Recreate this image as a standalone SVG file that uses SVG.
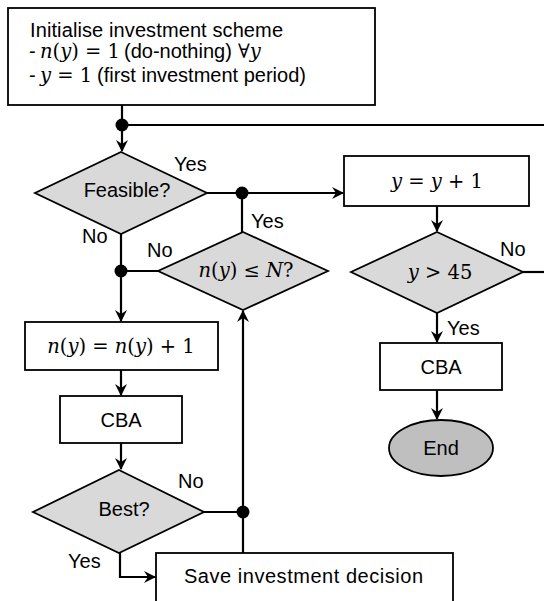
<svg xmlns="http://www.w3.org/2000/svg" width="544" height="601" viewBox="0 0 544 601">
<style>
.box{fill:#fff;stroke:#000;stroke-width:1.8}
.dia{fill:#d9d9d9;stroke:#000;stroke-width:1.8}
.end{fill:#bfbfbf;stroke:#000;stroke-width:1.8}
.t{font-family:"Liberation Sans",Arial,sans-serif;font-size:20px;fill:#000}
.c{text-anchor:middle}
.m{font-family:"DejaVu Serif","Liberation Serif",serif;font-size:19.5px;fill:#000}
.i{font-style:italic}
.ln{fill:none;stroke:#000;stroke-width:2.2}
.dot{fill:#000}
</style>
<defs>
<marker id="ah" viewBox="0 0 12 12" refX="11" refY="6" markerWidth="12" markerHeight="12" markerUnits="userSpaceOnUse" orient="auto">
<path d="M0,0 L12,6 L0,12 L4,6 z" fill="#000"/>
</marker>
</defs>
<g id="connectors">
<path class="ln" d="M122,105 V151" marker-end="url(#ah)"/>
<path class="ln" d="M122,125 H544"/>
<path class="ln" d="M207,193 H343" marker-end="url(#ah)"/>
<path class="ln" d="M242,193 V232"/>
<path class="ln" d="M437,206 V231" marker-end="url(#ah)"/>
<path class="ln" d="M523,272 H544"/>
<path class="ln" d="M437,313 V342" marker-end="url(#ah)"/>
<path class="ln" d="M437,390 V419" marker-end="url(#ah)"/>
<path class="ln" d="M121,234 V321" marker-end="url(#ah)"/>
<path class="ln" d="M158,271 H121"/>
<path class="ln" d="M121,370 V395" marker-end="url(#ah)"/>
<path class="ln" d="M121,443 V469" marker-end="url(#ah)"/>
<path class="ln" d="M204,512 H243"/>
<path class="ln" d="M243,553 V311" marker-end="url(#ah)"/>
<path class="ln" d="M120,553 V577 H155" marker-end="url(#ah)"/>
<circle class="dot" cx="122" cy="125" r="6.5"/>
<circle class="dot" cx="242" cy="193" r="6.5"/>
<circle class="dot" cx="121" cy="271" r="6.5"/>
<circle class="dot" cx="243" cy="512" r="6.5"/>
<text class="t" x="174" y="171">Yes</text>
<text class="t" x="82" y="243">No</text>
<text class="t" x="251" y="228">Yes</text>
<text class="t" x="147" y="257">No</text>
<text class="t" x="500" y="256">No</text>
<text class="t" x="447" y="335">Yes</text>
<text class="t" x="178" y="488">No</text>
<text class="t" x="68" y="568">Yes</text>
</g>
<g id="init">
<rect class="box" x="8" y="8" width="367" height="97"/>
<text class="t" x="30" y="37" textLength="253">Initialise investment scheme</text>
<text class="t" x="29" y="58">-</text>
<text class="m" x="40" y="58"><tspan class="i">n</tspan>(<tspan class="i">y</tspan>) = 1</text>
<text class="t" x="124" y="58">(do-nothing)</text>
<text class="m" x="238" y="58">∀<tspan class="i">y</tspan></text>
<text class="t" x="29" y="82">-</text>
<text class="m" x="40" y="82"><tspan class="i">y</tspan> = 1</text>
<text class="t" x="97" y="82">(first investment period)</text>
</g>
<g id="feasible">
<polygon class="dia" points="121,152 207,193 121,234 35,193"/>
<text class="t c" x="127" y="197">Feasible?</text>
</g>
<g id="incr-y">
<rect class="box" x="344" y="156" width="185" height="50"/>
<text class="m c" x="437" y="188"><tspan class="i">y</tspan> = <tspan class="i">y</tspan> + 1</text>
</g>
<g id="check-n">
<polygon class="dia" points="243,232 328,271 243,310 158,271"/>
<text class="m c" x="246" y="277"><tspan class="i">n</tspan>(<tspan class="i">y</tspan>) ≤ <tspan class="i">N</tspan>?</text>
</g>
<g id="check-y">
<polygon class="dia" points="437,232 523,272 437,313 351,272"/>
<text class="m c" x="440" y="279"><tspan class="i">y</tspan> &gt; 45</text>
</g>
<g id="incr-n">
<rect class="box" x="25" y="322" width="193" height="48"/>
<text class="m c" x="121" y="353"><tspan class="i">n</tspan>(<tspan class="i">y</tspan>) = <tspan class="i">n</tspan>(<tspan class="i">y</tspan>) + 1</text>
</g>
<g id="cba-left">
<rect class="box" x="60" y="396" width="122" height="47"/>
<text class="t c" x="121" y="427">CBA</text>
</g>
<g id="best">
<polygon class="dia" points="119,470 204,512 119,553 33,512"/>
<text class="t c" x="124" y="516">Best?</text>
</g>
<g id="cba-right">
<rect class="box" x="380" y="343" width="122" height="47"/>
<text class="t c" x="441" y="374">CBA</text>
</g>
<g id="end">
<ellipse class="end" cx="441" cy="448" rx="52" ry="28"/>
<text class="t c" x="441" y="455">End</text>
</g>
<g id="save">
<rect class="box" x="156" y="553" width="297" height="60"/>
<text class="t" x="184" y="583" textLength="239">Save investment decision</text>
</g>
</svg>
